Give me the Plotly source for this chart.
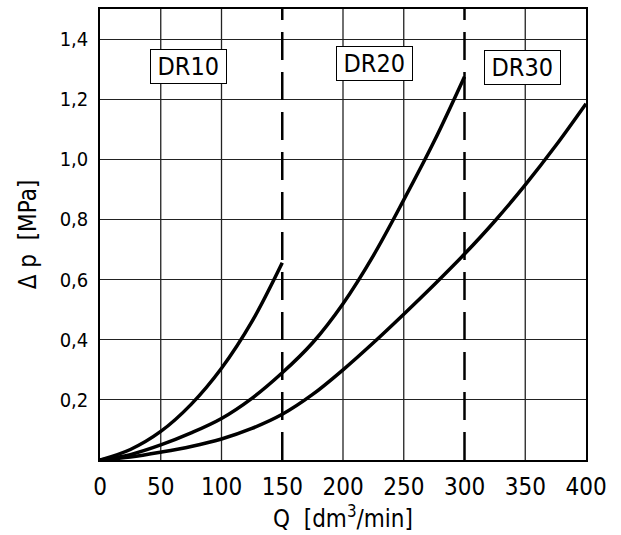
import plotly.graph_objects as go

# Data
dr10_q = [0, 25, 50, 75, 100, 125, 150]
dr10_dp = [0, 0.035, 0.095, 0.185, 0.305, 0.46, 0.656]

dr20_q = [0, 25, 50, 75, 100, 125, 150, 175, 200, 225, 250, 275, 300]
dr20_dp = [0, 0.018, 0.05, 0.09, 0.138, 0.205, 0.29, 0.39, 0.52, 0.68, 0.865, 1.06, 1.275]

dr30_q = [0, 25, 50, 75, 100, 125, 150, 175, 200, 225, 250, 275, 300, 325, 350, 375, 400]
dr30_dp = [0, 0.01, 0.026, 0.045, 0.07, 0.105, 0.152, 0.218, 0.30, 0.39, 0.485, 0.583,
           0.685, 0.795, 0.915, 1.045, 1.185]

x_ticks = [0, 50, 100, 150, 200, 250, 300, 350, 400]
y_ticks = [0.2, 0.4, 0.6, 0.8, 1.0, 1.2, 1.4]
y_ticktext = ["0,2", "0,4", "0,6", "0,8", "1,0", "1,2", "1,4"]
grid_q = [50, 100, 200, 250, 350]
limit_q = [150, 300]

labels = ["DR10", "DR20", "DR30"]
label_q = [73, 226, 348]
label_dp = [1.31, 1.318, 1.305]

FONT = "Liberation Sans Narrow, DejaVu Sans Condensed, DejaVu Sans, sans-serif"

fig = go.Figure()
for q, dp, name in [(dr10_q, dr10_dp, "DR10"), (dr20_q, dr20_dp, "DR20"), (dr30_q, dr30_dp, "DR30")]:
    fig.add_trace(go.Scatter(x=q, y=dp, mode="lines", name=name,
                             line=dict(color="black", width=3.5, shape="spline", smoothing=1.0),
                             showlegend=False, hoverinfo="skip"))

shapes = []
for g in grid_q:
    shapes.append(dict(type="line", xref="x", yref="paper", x0=g, x1=g, y0=0, y1=1,
                       line=dict(color="#222", width=1.3), layer="below"))
for g in limit_q:
    shapes.append(dict(type="line", xref="x", yref="paper", x0=g, x1=g, y0=0, y1=1,
                       line=dict(color="black", width=2.5, dash="28px,12px"), layer="above"))

annotations = []
for t, q, dp in zip(labels, label_q, label_dp):
    annotations.append(dict(x=q, y=dp, xref="x", yref="y", text="&#8201;" + t + "&#8201;",
                            showarrow=False,
                            font=dict(family=FONT, size=25, color="black"),
                            bgcolor="white", bordercolor="black", borderwidth=1, borderpad=2))

fig.update_layout(
    width=621, height=535,
    margin=dict(l=100, r=35, t=7, b=75),
    plot_bgcolor="white", paper_bgcolor="white",
    shapes=shapes, annotations=annotations,
    font=dict(family=FONT, color="black"),
    xaxis=dict(range=[0, 400], tickvals=x_ticks, ticktext=[str(v) for v in x_ticks],
               showgrid=False, zeroline=False, showline=True, mirror=True,
               linecolor="black", linewidth=1.5, ticks="", ticklabelstandoff=4,
               tickfont=dict(family=FONT, size=24, color="black"),
               title=dict(text="Q  [dm<sup>3</sup>/min]", standoff=10,
                          font=dict(family=FONT, size=24, color="black"))),
    yaxis=dict(range=[0, 1.5], tickvals=y_ticks, ticktext=y_ticktext,
               showgrid=True, gridcolor="#222", gridwidth=1.3,
               zeroline=False, showline=True, mirror=True,
               linecolor="black", linewidth=1.5, ticks="", ticklabelstandoff=6,
               tickfont=dict(family=FONT, size=20, color="black"),
               title=dict(text="Δ p  [MPa]", standoff=16,
                          font=dict(family=FONT, size=24, color="black"))),
)

fig.write_html("out.html")
